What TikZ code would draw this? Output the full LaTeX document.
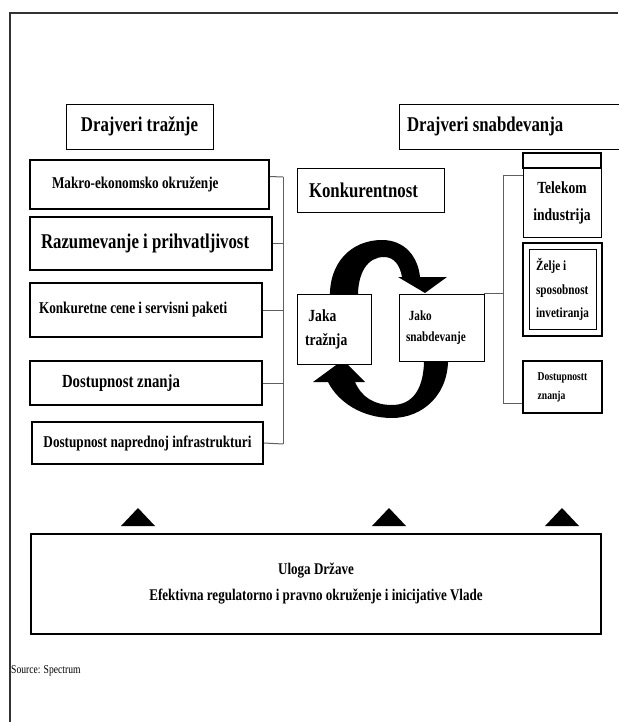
\documentclass[tikz,border=0pt]{standalone}
\usepackage{fontspec}
\setmainfont{Liberation Serif}[FakeStretch=0.8]
\usepackage{tikz}
\usepackage{xcolor}
\definecolor{ColFrame}{RGB}{50,50,50}
\definecolor{ColLink}{RGB}{95,95,95}
\newcommand{\FontPx}[2]{\fontsize{#1}{#2}\selectfont\bfseries}
\tikzstyle{TitleBox}=[rectangle,draw=black,fill=white,line width=0.9pt,inner sep=2pt]
\tikzstyle{DriverBox}=[rectangle,draw=black,fill=white,line width=1.8pt,inner sep=2pt]
\tikzstyle{ThinBox}=[rectangle,draw=black,fill=white,line width=0.9pt,inner sep=2pt]
\tikzstyle{LinkEdge}=[ColLink,line width=1pt]
\tikzstyle{CycleArrow}=[fill=black,draw=none]

\begin{document}
\begin{tikzpicture}[x=1pt,y=-1pt]
        \useasboundingbox[fill=white](0,0)rectangle(618,722);
        \draw[ColFrame,line width=1.2pt](10,722)--(10,13)--(618,13);
        % circle of demand and supply
        \fill[CycleArrow](330,300)..controls(328,262)and(352,240)..(382,240)
            ..controls(405,240)and(418,257)..(420,277)--(447,277)--(425,293)--(398,277)--(402,277)
            ..controls(400,265)and(394,257)..(384,257)..controls(368,257)and(357,272)..(358,300)--cycle;
        \fill[CycleArrow](448,355)..controls(450,395)and(422,418)..(392,418)
            ..controls(362,418)and(338,402)..(328,382)--(313,382)--(343,360)--(365,382)--(355,382)
            ..controls(362,398)and(375,405)..(392,405)..controls(412,405)and(425,390)..(424,355)--cycle;
        % titles
        \node[TitleBox,minimum width=147pt,minimum height=45pt,font={\FontPx{21}{25}}](titleD)at(139.5,126.5){Drajveri tražnje};
        \node[TitleBox,minimum height=45pt,inner xsep=8pt,text width=234pt,align=flush left,font={\FontPx{21}{25}}](titleS)at(524,126.5){Drajveri snabdevanja};
        \node[TitleBox,minimum height=44pt,inner xsep=12pt,text width=123pt,align=flush left,font={\FontPx{21}{25}}](konk)at(370.5,190){Konkurentnost};
        % demand drivers
        \node[DriverBox,minimum height=49pt,inner xsep=22pt,text width=195pt,align=flush left,font={\FontPx{16.5}{20}}](makro)at(149.5,184.5){Makro-ekonomsko okruženje};
        \node[DriverBox,minimum height=53pt,inner xsep=11pt,text width=220pt,align=flush left,font={\FontPx{21}{25}}](razum)at(151,243.5){Razumevanje i prihvatljivost};
        \node[DriverBox,minimum height=54pt,inner xsep=9pt,text width=214pt,align=flush left,font={\FontPx{16.5}{20}}](konkc)at(146,310){Konkuretne cene i servisni paketi};
        \node[DriverBox,minimum height=44pt,inner xsep=32pt,text width=168pt,align=flush left,font={\FontPx{18.5}{22}}](dznanja)at(146,383){Dostupnost znanja};
        \node[DriverBox,minimum width=231pt,minimum height=42pt,font={\FontPx{16.5}{20}}](dinfra)at(147.5,443){Dostupnost naprednoj infrastrukturi};
        % demand and supply
        \node[ThinBox,minimum height=70pt,inner xsep=8pt,text width=58pt,align=flush left,font={\FontPx{17}{24}}](jtraz)at(334,329){\ Jaka\\tražnja};
        \node[ThinBox,minimum height=67pt,inner xsep=7pt,text width=71pt,align=flush left,font={\FontPx{14}{21}}](jsnab)at(441.5,327.5){\ Jako\\snabdevanje};
        % supply drivers
        \node[DriverBox,minimum width=78pt,minimum height=15pt](blank)at(562,160.5){};
        \node[ThinBox,minimum width=78pt,minimum height=69pt,align=flush center,font={\FontPx{17}{27}}](telekom)at(562,202.5){Telekom\\industrija};
        \node[DriverBox,minimum width=79pt,minimum height=93pt](zelje)at(562.5,289.5){};
        \node[ThinBox,minimum width=67pt,minimum height=80pt,align=flush left,font={\FontPx{14}{23.5}}](zeljeIn)at(zelje){Želje i\\sposobnost\\invetiranja};
        \node[DriverBox,minimum width=79pt,minimum height=52pt,align=flush left,font={\FontPx{12}{19}}](dznanjaS)at(562.5,387){Dostupnostt\\znanja};
        % links
        \coordinate(busLT)at(283,177);
        \coordinate(busLB)at(283,444);
        \draw[LinkEdge](busLT)--(busLB);
        \draw[LinkEdge]([yshift=8pt]makro.east)--(busLT);
        \draw[LinkEdge](razum.east)--(razum.east-|busLT);
        \draw[LinkEdge](konkc.east)--(konkc.east-|busLT);
        \draw[LinkEdge](dznanja.east)--(dznanja.east-|busLT);
        \draw[LinkEdge](dinfra.east)--(busLB);
        \coordinate(busRT)at(503,176);
        \coordinate(busRB)at(503,403);
        \draw[LinkEdge](busRT)--(busRB);
        \draw[LinkEdge](busRT)--(busRT-|telekom.west);
        \draw[LinkEdge](busRB)--(busRB-|dznanjaS.west);
        \draw[LinkEdge](jsnab.north east)--(jsnab.north east-|busRT);
        % role of the state
        \node[DriverBox,line width=1.4pt,minimum width=570pt,minimum height=100pt,align=flush center,font={\FontPx{16.3}{26}}](uloga)at(316,584)
            {Uloga Države\\Efektivna regulatorno i pravno okruženje i inicijative Vlade};
        \foreach \tx in {138,389,562}
            \fill[black]({\tx-17},526)--(\tx,508)--({\tx+17},526)--cycle;
        \node[anchor=west,inner sep=0pt](source)at(11,671){\fontsize{12}{14}\selectfont Source: Spectrum};
    \end{tikzpicture}
\end{document}
